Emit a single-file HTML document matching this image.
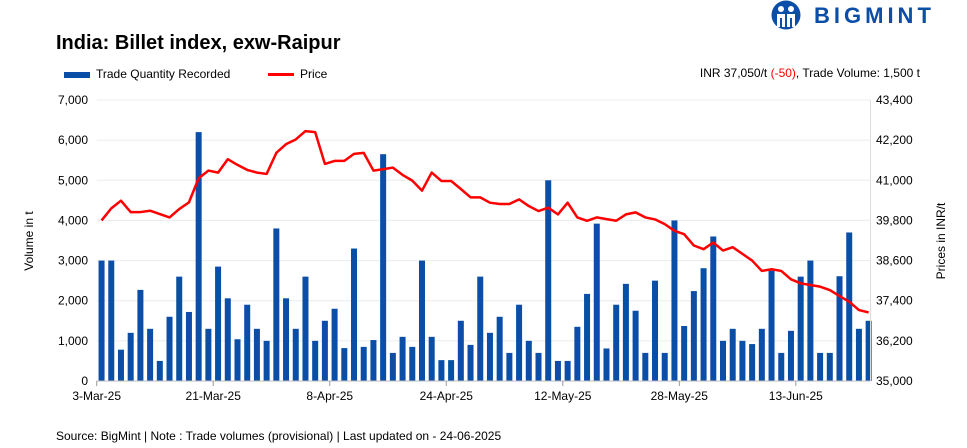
<!DOCTYPE html>
<html><head><meta charset="utf-8"><style>
body{margin:0;width:967px;height:448px;background:#fff;font-family:"Liberation Sans",sans-serif;overflow:hidden;position:relative}
.t{position:absolute;white-space:nowrap}
</style></head><body>
<div class="t" style="left:56px;top:32px;font-size:20px;font-weight:bold;color:#000">India: Billet index, exw-Raipur</div>
<div class="t" style="left:770px;top:0px;height:30px;">
<svg width="34" height="30" style="position:absolute;left:0;top:0"><circle cx="16" cy="15" r="14.5" fill="#0a4ea8"/><circle cx="11" cy="9" r="3" fill="#fff"/><circle cx="21" cy="9" r="3" fill="#fff"/><path d="M7 14h8v13h-3v-9h-2v9H7z M17 14h8v13h-3v-9h-2v9h-3z" fill="#fff"/></svg>
<span style="position:absolute;left:44px;top:3px;font-size:22px;font-weight:bold;color:#0a4ea8;letter-spacing:4px">BIGMINT</span></div>
<div class="t" style="left:64px;top:67px;font-size:12px"><span style="display:inline-block;width:26px;height:6px;background:#0a4ea8;vertical-align:middle;margin-right:6px"></span>Trade Quantity Recorded</div>
<div class="t" style="left:268px;top:67px;font-size:12px"><span style="display:inline-block;width:26px;height:3px;background:#f00;vertical-align:middle;margin-right:6px"></span>Price</div>
<div class="t" style="right:47px;top:66px;font-size:12px">INR 37,050/t <span style="color:#f00">(-50)</span>, Trade Volume: 1,500 t</div>
<div class="t" style="left:56px;top:429px;font-size:12px">Source: BigMint | Note : Trade volumes (provisional) | Last updated on - 24-06-2025</div>
<svg id="c" width="967" height="448" style="position:absolute;left:0;top:0"></svg>
<script>
const categoriesStart = "2025-03-03";
const tickLabels = ["3-Mar-25","21-Mar-25","8-Apr-25","24-Apr-25","12-May-25","28-May-25","13-Jun-25"];
const leftTicks = [0,1000,2000,3000,4000,5000,6000,7000];
const rightTicks = [35000,36200,37400,38600,39800,41000,42200,43400];
const volume = [3000,3000,780,1200,2270,1300,500,1600,2600,1720,6200,1300,2850,2060,1040,1900,1300,1000,3800,2060,1300,2600,1000,1500,1800,820,3300,850,1020,5650,700,1100,850,3000,1100,520,520,1500,900,2600,1200,1600,700,1900,1000,700,5000,500,500,1350,2170,3920,810,1900,2420,1750,700,2500,700,4000,1370,2240,2810,3600,1000,1300,1000,920,1300,2750,700,1250,2600,3000,700,700,2610,3700,1300,1500];
const price = [39800,40160,40390,40050,40050,40090,39990,39890,40140,40340,41060,41290,41230,41630,41460,41310,41230,41190,41820,42080,42220,42470,42440,41490,41580,41580,41790,41820,41290,41330,41380,41160,40990,40690,41230,40980,40980,40740,40490,40490,40330,40290,40290,40430,40230,40080,40180,39980,40330,39890,39790,39890,39840,39790,39980,40040,39890,39830,39690,39490,39390,39050,38940,39140,38900,39000,38800,38600,38290,38340,38290,38040,37920,37870,37820,37720,37540,37370,37120,37050];
const NS="http://www.w3.org/2000/svg";
const svg=document.getElementById('c');
const X0=96.7,X1=873.5,Y0=381,Y1=100,n=volume.length,step=(X1-X0)/n;
const xc=i=>X0+(i+0.5)*step;
const yL=v=>Y0-(v-0)/(7000)*(Y0-Y1);
const yR=v=>Y0-(v-35000)/(8400)*(Y0-Y1);
function mk(t,a){const e=document.createElementNS(NS,t);for(const k in a)e.setAttribute(k,a[k]);svg.appendChild(e);return e;}
leftTicks.forEach((v,i)=>{
 if(i>0){const g=mk('line',{x1:X0,x2:X1-3,y1:yL(v),y2:yL(v),stroke:'#ececec','stroke-width':1});
 
 }
 const t=mk('text',{x:88,y:yL(v)+4,'text-anchor':'end','font-size':12,'font-family':'Liberation Sans'});t.textContent=v.toLocaleString('en-US');
 
 
});
rightTicks.forEach(v=>{
 const t=mk('text',{x:876,y:yR(v)+4,'font-size':12,'font-family':'Liberation Sans'});t.textContent=v.toLocaleString('en-US');
 
 
});
volume.forEach((v,i)=>{
 const b=mk('rect',{x:xc(i)-3,y:yL(v),width:6,height:Y0-yL(v),fill:'#0a4ea8'});
 
 
});
const axis=mk('line',{x1:X0,x2:X1-3,y1:Y0,y2:Y0,stroke:'#bbb'});


const ra=mk('line',{x1:X1-3,x2:X1-3,y1:Y1,y2:Y0,stroke:'#ddd'});


tickLabels.forEach((l,k)=>{
 const x=X0+k*12*step;
 const tk=mk('line',{x1:x,x2:x,y1:Y0,y2:Y0+5,stroke:'#999'});
 
 
 const t=mk('text',{x:x,y:400,'text-anchor':'middle','font-size':12,'font-family':'Liberation Sans'});t.textContent=l;
 
 
});
const line=mk('polyline',{points:price.map((p,i)=>xc(i)+','+yR(p)).join(' '),fill:'none',stroke:'#f00','stroke-width':2.5,'stroke-linejoin':'round'});


const lt=mk('text',{x:0,y:0,'font-size':12,'font-family':'Liberation Sans','text-anchor':'middle',transform:'translate(33,241) rotate(-90)'});lt.textContent='Volume in t';


const rt=mk('text',{x:0,y:0,'font-size':12,'font-family':'Liberation Sans','text-anchor':'middle',transform:'translate(945,241) rotate(-90)'});rt.textContent='Prices in INR/t';


</script>
</body></html>
